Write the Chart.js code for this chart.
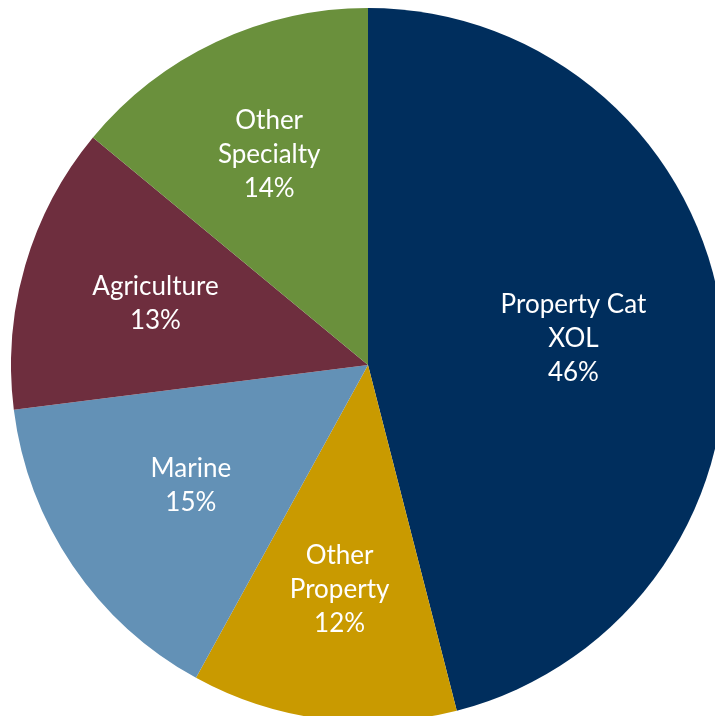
<!DOCTYPE html>
<html>
<head>
<meta charset="utf-8">
<script src="https://cdn.jsdelivr.net/npm/chart.js@4"></script>
<style>
  html, body { margin: 0; padding: 0; background: #fff; overflow: hidden; width: 715px; height: 716px; }
  #wrap { position: absolute; left: 11px; top: 8px; width: 714px; height: 714px; }
</style>
</head>
<body>
<div id="wrap"><canvas id="mix" width="714" height="714"></canvas></div>
<script>
const segments = [["Property Cat", "XOL"], ["Other", "Property"], ["Marine"], ["Agriculture"], ["Other", "Specialty"]];
const shares = [46, 12, 15, 13, 14];
const colors = ["#002E5D", "#C99A00", "#6391B6", "#6E2E3E", "#6A903C"];

// how far out along each slice's middle the label sits (fraction of radius)
const labelDepth = [0.58, 0.635, 0.6, 0.62, 0.65];

const sliceLabels = {
  id: "sliceLabels",
  afterDatasetsDraw(chart) {
    const ctx = chart.ctx;
    const meta = chart.getDatasetMeta(0);
    ctx.save();
    ctx.fillStyle = "#ffffff";
    ctx.font = "26px Lato";
    ctx.textAlign = "center";
    ctx.textBaseline = "middle";
    meta.data.forEach((arc, i) => {
      const p = arc.getProps(["x", "y", "startAngle", "endAngle", "outerRadius"], true);
      const mid = (p.startAngle + p.endAngle) / 2;
      const r = p.outerRadius * labelDepth[i];
      const cx = p.x + Math.cos(mid) * r;
      const cy = p.y + Math.sin(mid) * r;
      const lines = segments[i].concat([shares[i] + "%"]);
      const lh = 34;
      const top = cy - (lines.length - 1) * lh / 2;
      lines.forEach((t, k) => ctx.fillText(t, cx, top + k * lh));
    });
    ctx.restore();
  }
};

new Chart(document.getElementById("mix"), {
  type: "pie",
  data: {
    labels: segments.map(s => s.join(" ")),
    datasets: [{
      data: shares,
      backgroundColor: colors,
      borderWidth: 0
    }]
  },
  options: {
    responsive: false,
    animation: false,
    devicePixelRatio: 1,
    layout: { padding: 0 },
    plugins: {
      legend: { display: false },
      tooltip: { enabled: false }
    }
  },
  plugins: [sliceLabels]
});
</script>
</body>
</html>
